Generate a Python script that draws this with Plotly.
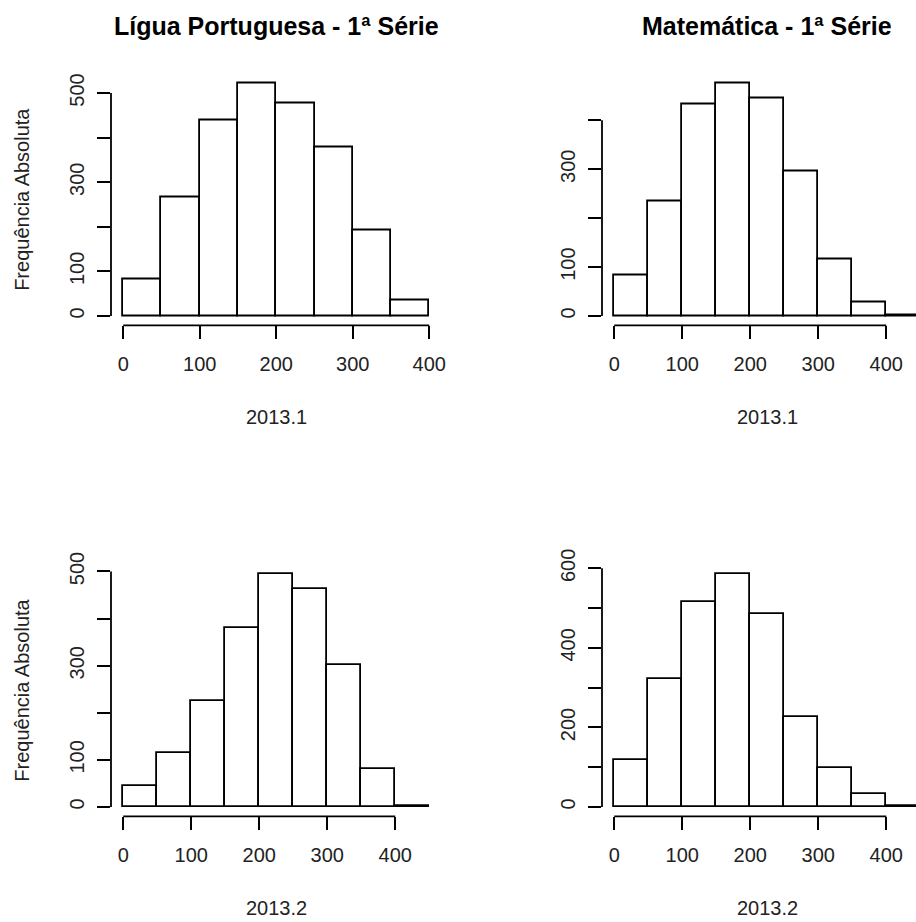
import plotly.graph_objects as go

# ---------------- data ----------------
bin_width = 50
x_ticks = [0, 100, 200, 300, 400]
x_ticklabels = ["0", "100", "200", "300", "400"]

titles = ["Lígua Portuguesa - 1ª Série", "Matemática - 1ª Série",
          "", ""]
x_titles = ["2013.1", "2013.1", "2013.2", "2013.2"]
y_title = "Frequência Absoluta"

port_2013_1 = [81, 265, 438, 521, 477, 379, 191, 34]
mat_2013_1 = [84, 235, 432, 475, 445, 295, 115, 27, 2]
port_2013_2 = [45, 115, 226, 379, 494, 462, 302, 81, 2]
mat_2013_2 = [117, 322, 515, 585, 486, 226, 99, 33, 3]

yticks_port_2013_1 = [0, 100, 200, 300, 400, 500]
ylabels_port_2013_1 = ["0", "100", "", "300", "", "500"]
yticks_mat_2013_1 = [0, 100, 200, 300, 400]
ylabels_mat_2013_1 = ["0", "100", "", "300", ""]
yticks_port_2013_2 = [0, 100, 200, 300, 400, 500]
ylabels_port_2013_2 = ["0", "100", "", "300", "", "500"]
yticks_mat_2013_2 = [0, 100, 200, 300, 400, 500, 600]
ylabels_mat_2013_2 = ["0", "", "200", "", "400", "", "600"]

# ---------------- layout constants ----------------
W, H = 916, 922
FONT = "Liberation Sans, Arial, sans-serif"
LW = 1.8
col_px = [(111.0, 441.5), (602.0, 932.5)]
row_px = [(74.4, 325.3), (565.0, 816.3)]

panels = [
    dict(counts=port_2013_1, yt=yticks_port_2013_1, yl=ylabels_port_2013_1, r=0, c=0),
    dict(counts=mat_2013_1, yt=yticks_mat_2013_1, yl=ylabels_mat_2013_1, r=0, c=1),
    dict(counts=port_2013_2, yt=yticks_port_2013_2, yl=ylabels_port_2013_2, r=1, c=0),
    dict(counts=mat_2013_2, yt=yticks_mat_2013_2, yl=ylabels_mat_2013_2, r=1, c=1),
]

fig = go.Figure()
layout = dict(width=W, height=H, margin=dict(l=0, r=0, t=0, b=0, autoexpand=False),
              paper_bgcolor="white", plot_bgcolor="white",
              showlegend=False, bargap=0, font=dict(family=FONT, color="black"))
shapes, annotations = [], []

for i, p in enumerate(panels):
    k = "" if i == 0 else str(i + 1)
    counts = p["counts"]
    edges = [j * bin_width for j in range(len(counts) + 1)]
    centers = [e + bin_width / 2 for e in edges[:-1]]
    fig.add_trace(go.Bar(x=centers, y=counts, width=bin_width,
                         marker=dict(color="white", line=dict(color="black", width=LW)),
                         xaxis="x" + k, yaxis="y" + k, hoverinfo="x+y"))
    # R-style ranges (4% extension)
    lo, hi = edges[0], edges[-1]
    a, b = lo - 0.04 * (hi - lo), hi + 0.04 * (hi - lo)
    L, R = col_px[p["c"]]
    if R > W:
        b = a + (W - L) / (R - L) * (b - a)
        R = W
    ymax = max(counts)
    top, bot = row_px[p["r"]]
    layout["xaxis" + k] = dict(
        domain=[L / W, R / W], range=[a, b], anchor="y" + k, automargin=False,
        showgrid=False, zeroline=False, showline=False,
        ticks="outside", ticklen=13, tickwidth=LW, tickcolor="black",
        tickvals=x_ticks, ticktext=x_ticklabels,
        tickfont=dict(family=FONT, size=20, color="#222"), ticklabelstandoff=8)
    layout["yaxis" + k] = dict(
        domain=[1 - bot / H, 1 - top / H], range=[-0.04 * ymax, 1.04 * ymax], anchor="x" + k,
        automargin=False,
        showgrid=False, zeroline=False, showline=False,
        ticks="outside", ticklen=13, tickwidth=LW, tickcolor="black",
        tickvals=p["yt"], ticktext=p["yl"], tickangle=-90,
        tickfont=dict(family=FONT, size=20, color="#222"), ticklabelstandoff=5)
    # R-style axis lines spanning first..last tick
    shapes.append(dict(type="line", xref="x" + k, yref="y" + k + " domain",
                       x0=x_ticks[0], x1=x_ticks[-1], y0=0, y1=0,
                       line=dict(color="black", width=LW)))
    shapes.append(dict(type="line", xref="x" + k + " domain", yref="y" + k,
                       x0=0, x1=0, y0=p["yt"][0], y1=p["yt"][-1],
                       line=dict(color="black", width=LW)))
    cx = (col_px[p["c"]][0] + col_px[p["c"]][1]) / 2 / W
    if titles[i]:
        annotations.append(dict(text="<b>" + titles[i] + "</b>", x=cx, y=1 - 26 / H,
                                xref="paper", yref="paper", showarrow=False,
                                xanchor="center", yanchor="middle",
                                font=dict(family=FONT, size=25, color="black")))
    annotations.append(dict(text=x_titles[i], x=cx, y=1 - (bot + 92) / H,
                            xref="paper", yref="paper", showarrow=False,
                            xanchor="center", yanchor="middle",
                            font=dict(family=FONT, size=20, color="#222")))
    if p["c"] == 0:
        annotations.append(dict(text=y_title, x=22 / W, y=1 - (top + bot) / 2 / H,
                                xref="paper", yref="paper", showarrow=False,
                                textangle=-90, xanchor="center", yanchor="middle",
                                font=dict(family=FONT, size=20, color="#222")))

layout["shapes"] = shapes
layout["annotations"] = annotations
fig.update_layout(**layout)
fig.write_html("out.html", config={"displayModeBar": False},
               post_script="document.body.style.margin='0';document.body.style.overflow='hidden';")
